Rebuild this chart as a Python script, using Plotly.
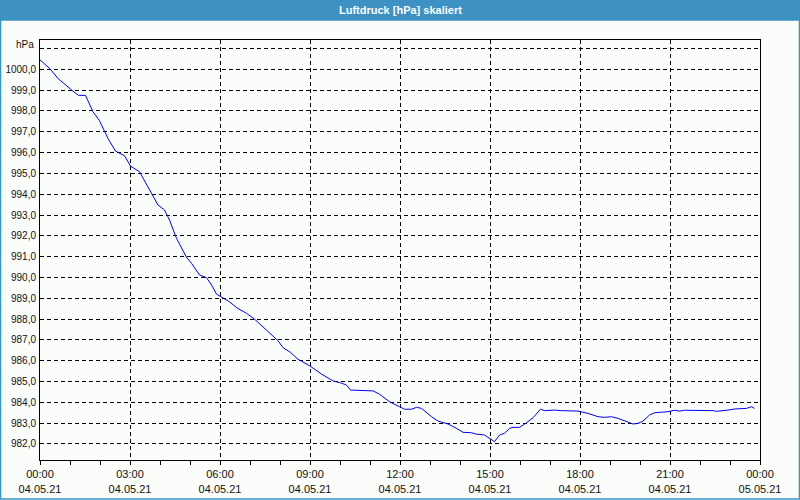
import plotly.graph_objects as go

# ---- data ----
times = ["00:00","00:19","00:36","00:56","01:06","01:17","01:31","01:46","01:59","02:16",
         "02:31","02:49","03:01","03:19","03:43","03:56","04:09","04:19","04:33","04:53",
         "05:03","05:19","05:33","05:43","05:53","06:06","06:19","06:35","06:53","07:09",
         "07:33","07:56","08:06","08:21","08:36","08:59","09:23","09:46","10:03","10:13",
         "10:21","11:06","11:19","11:39","11:59","12:09","12:23","12:33","12:43","13:03",
         "13:16","13:36","13:53","14:06","14:23","14:33","14:49","14:59","15:09","15:19",
         "15:29","15:39","15:46","15:59","16:09","16:26","16:41","16:49","17:09","17:23",
         "17:56","18:16","18:36","18:49","19:03","19:16","19:29","19:46","19:56","20:06",
         "20:19","20:29","20:56","21:09","21:19","21:29","22:26","22:33","22:56","23:09",
         "23:33","23:43","23:49"]
pressure = [1000.45,1000.05,999.56,999.13,998.95,998.75,998.75,997.96,997.53,996.68,
            996.07,995.85,995.35,995.08,994.04,993.48,993.24,992.76,991.88,990.97,
            990.68,990.12,989.99,989.64,989.20,989.03,988.83,988.52,988.28,988.00,
            987.48,986.96,986.63,986.40,986.07,985.76,985.36,985.03,984.92,984.83,
            984.59,984.55,984.39,984.03,983.79,983.67,983.67,983.76,983.71,983.31,
            983.10,982.96,982.75,982.56,982.54,982.47,982.43,982.27,982.11,982.43,
            982.51,982.75,982.80,982.80,982.95,983.26,983.67,983.60,983.63,983.60,
            983.58,983.47,983.31,983.28,983.31,983.23,983.10,982.96,982.99,983.10,
            983.39,983.50,983.55,983.62,983.58,983.62,983.60,983.57,983.63,983.68,
            983.71,983.79,983.71]

x_tickvals = ["2021-05-04 00:00","2021-05-04 03:00","2021-05-04 06:00","2021-05-04 09:00",
              "2021-05-04 12:00","2021-05-04 15:00","2021-05-04 18:00","2021-05-04 21:00",
              "2021-05-05 00:00"]
x_ticktext = ["00:00<br>04.05.21","03:00<br>04.05.21","06:00<br>04.05.21","09:00<br>04.05.21",
              "12:00<br>04.05.21","15:00<br>04.05.21","18:00<br>04.05.21","21:00<br>04.05.21",
              "00:00<br>05.05.21"]
y_tickvals = [982,983,984,985,986,987,988,989,990,991,992,993,994,995,996,997,998,999,1000,1001]
y_ticktext = ["982,0","983,0","984,0","985,0","986,0","987,0","988,0","989,0","990,0","991,0",
              "992,0","993,0","994,0","995,0","996,0","997,0","998,0","999,0","1000,0",""]

title_text = "Luftdruck [hPa] skaliert"
unit_text = "hPa"

xs = ["2021-05-04 " + t for t in times]

fig = go.Figure()
fig.add_trace(go.Scatter(x=xs, y=pressure, mode="lines",
                         line=dict(color="#0000ff", width=1), hoverinfo="skip"))

font = dict(family="Liberation Sans, Arial, sans-serif", size=10, color="#111111")
xfont = dict(family="Liberation Sans, Arial, sans-serif", size=11, color="#111111")
bg = "#fbfdfb"
blue = "#3d92c3"

fig.update_layout(
    width=800, height=500,
    margin=dict(l=40, r=40, t=40, b=40),
    paper_bgcolor=bg, plot_bgcolor=bg,
    showlegend=False,
    font=font,
    xaxis=dict(
        type="date", automargin=False,
        range=["2021-05-04 00:00", "2021-05-05 00:00"],
        tickvals=x_tickvals, ticktext=x_ticktext,
        showgrid=True, gridcolor="#000000", gridwidth=1, griddash="4px,3px",
        showline=True, linecolor="#000000", linewidth=1, mirror=True,
        ticks="outside", ticklen=4, tickcolor="#000000", ticklabelstandoff=0,
        minor=dict(dtick=3600000, ticks="outside", ticklen=4, tickcolor="#000000", showgrid=False),
        zeroline=False, tickfont=xfont,
    ),
    yaxis=dict(
        automargin=False,
        range=[981.23, 1001.41],
        tickvals=y_tickvals, ticktext=y_ticktext,
        showgrid=True, gridcolor="#000000", gridwidth=1, griddash="4px,3px",
        showline=True, linecolor="#000000", linewidth=1, mirror=True,
        ticks="", zeroline=False, tickfont=font, ticklabelstandoff=1,
    ),
    shapes=[
        dict(type="rect", xref="paper", yref="paper",
             x0=-40/720, x1=1+40/720, y0=1+20/420, y1=1+40/420,
             fillcolor=blue, line=dict(width=0), layer="above"),
        dict(type="rect", xref="paper", yref="paper",
             x0=-40/720 + 0.5/720, x1=1+40/720 - 0.5/720, y0=-40/420 + 1/420, y1=1+20/420,
             fillcolor="rgba(0,0,0,0)", line=dict(color=blue, width=1.5), layer="above"),
    ],
    annotations=[
        dict(text="<b>" + title_text + "</b>", xref="paper", yref="paper",
             x=0.5, y=1+30/420, xanchor="center", yanchor="middle", showarrow=False,
             font=dict(family="Liberation Sans, Arial, sans-serif", size=11, color="#ffffff")),
        dict(text=unit_text, xref="paper", yref="y",
             x=-4/720, y=1001, xanchor="right", yanchor="middle", yshift=4, showarrow=False,
             font=font),
    ],
)

fig.write_html("out.html")
